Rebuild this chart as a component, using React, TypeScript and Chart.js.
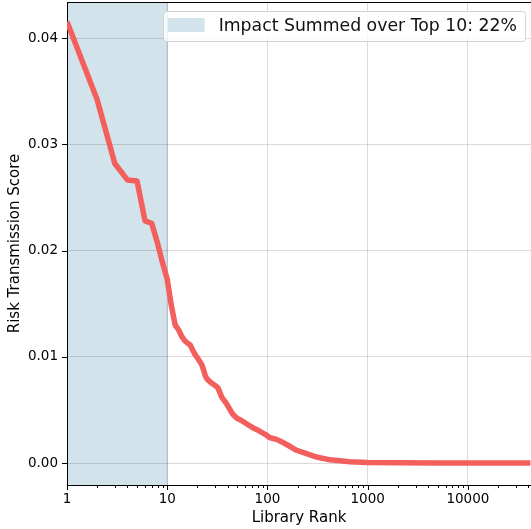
import React, { useEffect, useRef } from "react";
import { Chart, registerables } from "chart.js";

Chart.register(...registerables);

const ranks = [
  1, 2, 3, 4, 5, 6, 7, 8, 9, 10, 11, 12, 13, 14, 15, 16, 17, 18, 19, 20, 22, 23, 24, 25, 27, 30, 32, 35, 39,
  45, 50, 55, 64, 72, 80, 95, 105, 125, 145, 165, 195, 245, 310, 420, 660, 1000, 2000, 5000, 10000, 20000,
  42000,
];
const scores = [
  0.04155, 0.0342, 0.0282, 0.02665, 0.02655, 0.0228, 0.02257, 0.0207, 0.0188, 0.0173, 0.0148, 0.013,
  0.01252, 0.0119, 0.0115, 0.01127, 0.0111, 0.0106, 0.0102, 0.0099, 0.0093, 0.0088, 0.0082, 0.0079,
  0.0076, 0.0073, 0.0071, 0.0062, 0.0056, 0.0046, 0.0042, 0.004, 0.0036, 0.0033, 0.0031, 0.0027, 0.0024,
  0.0022, 0.0019, 0.0016, 0.0012, 0.00088, 0.00056, 0.0003, 0.00012, 0.00005, 0.00002, 0.000008,
  0.000004, 0.000002, 0.000001,
];
const xTickValues = [1, 10, 100, 1000, 10000];
const xTickLabels = ["1", "10", "100", "1000", "10000"];
const yTickValues = [0, 0.01, 0.02, 0.03, 0.04];
const yTickLabels = ["0.00", "0.01", "0.02", "0.03", "0.04"];
const highlightRange = [1, 10];
const legendLabel = "Impact Summed over Top 10: 22%";
const xTitle = "Library Rank";
const yTitle = "Risk Transmission Score";

const FONT = "'DejaVu Sans', sans-serif";
const LINE_COLOR = "rgb(242,95,92)";
const SHADE_COLOR = "rgb(211,227,235)";
const GRID_COLOR = "rgba(0,0,0,0.14)";

function minorTicks(min: number, max: number): number[] {
  const out: number[] = [];
  for (let d = 1; d <= max; d *= 10) {
    for (let k = 2; k <= 9; k++) {
      const v = d * k;
      if (v > min && v < max) out.push(v);
    }
  }
  return out;
}

const decorPlugin = {
  id: "decor",
  beforeDraw(chart: any) {
    const { ctx, chartArea, scales } = chart;
    ctx.save();
    ctx.fillStyle = "#ffffff";
    ctx.fillRect(0, 0, chart.width, chart.height);
    const x0 = scales.x.getPixelForValue(highlightRange[0]);
    const x1 = scales.x.getPixelForValue(highlightRange[1]);
    ctx.fillStyle = SHADE_COLOR;
    ctx.fillRect(x0, chartArea.top, x1 - x0, chartArea.bottom - chartArea.top);
    ctx.strokeStyle = "rgba(150,175,195,0.35)";
    ctx.lineWidth = 1.5;
    ctx.beginPath();
    ctx.moveTo(x1, chartArea.top);
    ctx.lineTo(x1, chartArea.bottom);
    ctx.stroke();
    ctx.restore();
  },
  afterDraw(chart: any) {
    const { ctx, chartArea, scales } = chart;
    ctx.save();
    ctx.strokeStyle = "#000";
    ctx.lineWidth = 1;
    // top spine
    ctx.beginPath();
    ctx.moveTo(chartArea.left, chartArea.top + 0.5);
    ctx.lineTo(chartArea.right, chartArea.top + 0.5);
    ctx.stroke();
    // ticks
    ctx.beginPath();
    for (const v of xTickValues) {
      const px = Math.round(scales.x.getPixelForValue(v)) + 0.5;
      ctx.moveTo(px, chartArea.bottom);
      ctx.lineTo(px, chartArea.bottom + 5);
    }
    for (const v of minorTicks(1, scales.x.max)) {
      const px = Math.round(scales.x.getPixelForValue(v)) + 0.5;
      ctx.moveTo(px, chartArea.bottom);
      ctx.lineTo(px, chartArea.bottom + 3);
    }
    for (const v of yTickValues) {
      const py = Math.round(scales.y.getPixelForValue(v)) + 0.5;
      ctx.moveTo(chartArea.left - 5, py);
      ctx.lineTo(chartArea.left, py);
    }
    ctx.stroke();

    // legend
    ctx.font = `17.3px ${FONT}`;
    const tw = ctx.measureText(legendLabel).width;
    const right = chartArea.right - 6;
    const bw = tw + 64;
    const bx = right - bw;
    const by = chartArea.top + 9;
    const bh = 30;
    ctx.fillStyle = "rgba(255,255,255,0.8)";
    ctx.strokeStyle = "rgb(210,210,210)";
    ctx.beginPath();
    (ctx as any).roundRect(Math.round(bx) + 0.5, by + 0.5, Math.round(bw), bh, 3);
    ctx.fill();
    ctx.stroke();
    ctx.fillStyle = SHADE_COLOR;
    ctx.fillRect(bx + 5, by + 7, 37, 14);
    ctx.fillStyle = "#111";
    ctx.textBaseline = "middle";
    ctx.textAlign = "left";
    ctx.fillText(legendLabel, bx + 56, by + bh / 2 + 1);
    ctx.restore();
  },
};

export default function App() {
  const ref = useRef<HTMLCanvasElement | null>(null);
  useEffect(() => {
    document.body.style.margin = "0";
    const canvas = ref.current!;
    const chart = new Chart(canvas, {
      type: "line",
      data: {
        datasets: [
          {
            data: ranks.map((r, i) => ({ x: r, y: scores[i] })),
            borderColor: LINE_COLOR,
            borderWidth: 5.5,
            pointRadius: 0,
            tension: 0,
            fill: false,
            borderJoinStyle: "round",
            borderCapStyle: "butt",
          },
        ],
      },
      options: {
        responsive: false,
        animation: false,
        layout: { padding: { top: 2, left: 0, right: 0, bottom: 0 } },
        plugins: { legend: { display: false }, tooltip: { enabled: false } },
        scales: {
          x: {
            type: "logarithmic",
            min: 1,
            max: 42600,
            afterBuildTicks: (s: any) => {
              s.ticks = xTickValues.map((v) => ({ value: v }));
            },
            afterFit: (s: any) => {
              s.height = 44;
              s.paddingLeft = 0;
              s.paddingRight = 0;
            },
            ticks: {
              autoSkip: false,
              maxRotation: 0,
              padding: 6,
              color: "#000",
              font: { family: FONT, size: 13.5 },
              callback: (v: any) => {
                const i = xTickValues.indexOf(Number(v));
                return i >= 0 ? xTickLabels[i] : "";
              },
            },
            grid: { color: GRID_COLOR, drawTicks: false, lineWidth: 1 },
            border: { display: true, color: "#000", width: 1 },
            title: {
              display: true,
              text: xTitle,
              color: "#000",
              font: { family: FONT, size: 15 },
              padding: { top: 0, bottom: 2 },
            },
          },
          y: {
            type: "linear",
            min: -0.00207,
            max: 0.0434,
            afterBuildTicks: (s: any) => {
              s.ticks = yTickValues.map((v) => ({ value: v }));
            },
            afterFit: (s: any) => {
              s.width = 67;
              s.paddingTop = 0;
              s.paddingBottom = 0;
            },
            ticks: {
              padding: 9,
              color: "#000",
              font: { family: FONT, size: 13.5 },
              callback: (v: any) => {
                const i = yTickValues.findIndex((t) => Math.abs(t - Number(v)) < 1e-9);
                return i >= 0 ? yTickLabels[i] : "";
              },
            },
            grid: { color: GRID_COLOR, drawTicks: false, lineWidth: 1 },
            border: { display: true, color: "#000", width: 1 },
            title: {
              display: true,
              text: yTitle,
              color: "#000",
              font: { family: FONT, size: 15 },
              padding: { top: 6, bottom: 0 },
            },
          },
        },
      },
      plugins: [decorPlugin],
    } as any);
    return () => chart.destroy();
  }, []);
  return (
    <div style={{ position: "fixed", left: 0, top: 0, width: 531, height: 529 }}>
      <canvas ref={ref} width={531} height={529} style={{ display: "block" }} />
    </div>
  );
}
